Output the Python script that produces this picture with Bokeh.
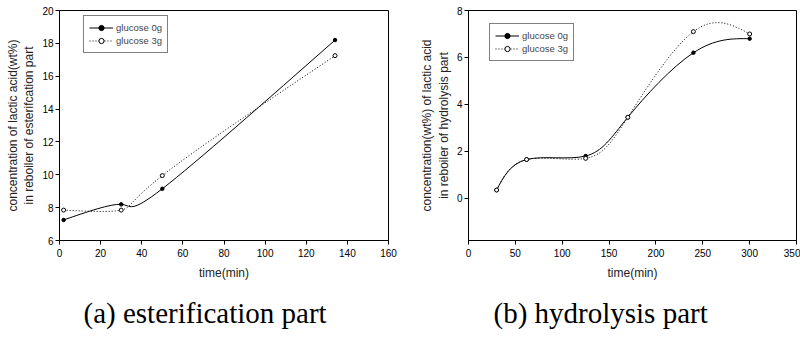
import numpy as np
from bokeh.plotting import figure
from bokeh.models import Range1d, FixedTicker, Legend, LegendItem, Title, ColumnDataSource
from bokeh.layouts import row
from bokeh.embed import file_html
from bokeh.resources import INLINE

# ---- data: (a) esterification part ----
est_time_0g = [2, 30, 50, 134]
est_conc_0g = [7.25, 8.2, 9.15, 18.2]
est_time_3g = [2, 30, 50, 134]
est_conc_3g = [7.85, 7.85, 9.95, 17.25]
est_xticks = [0, 20, 40, 60, 80, 100, 120, 140, 160]
est_yticks = [6, 8, 10, 12, 14, 16, 18, 20]

# ---- data: (b) hydrolysis part ----
hyd_time_0g = [30, 62, 125, 170, 240, 300]
hyd_conc_0g = [0.35, 1.65, 1.8, 3.45, 6.2, 6.8]
hyd_time_3g = [30, 62, 125, 170, 240, 300]
hyd_conc_3g = [0.35, 1.65, 1.7, 3.45, 7.1, 7.0]
hyd_xticks = [0, 50, 100, 150, 200, 250, 300, 350]
hyd_yticks = [0, 2, 4, 6, 8]

series_labels = ["glucose 0g", "glucose 3g"]


def natural_second_derivs(v):
    n = len(v)
    A = np.zeros((n, n))
    b = np.zeros(n)
    A[0, 0] = 1
    A[-1, -1] = 1
    for i in range(1, n - 1):
        A[i, i - 1] = 1
        A[i, i] = 4
        A[i, i + 1] = 1
        b[i] = 6 * (v[i + 1] - 2 * v[i] + v[i - 1])
    return np.linalg.solve(A, b)


def spline_source(xs, ys):
    # parametric natural cubic spline (uniform parameter), as Bezier segments
    xs = np.asarray(xs, float)
    ys = np.asarray(ys, float)
    Mx = natural_second_derivs(xs)
    My = natural_second_derivs(ys)
    d = dict(x0=[], y0=[], x1=[], y1=[], cx0=[], cy0=[], cx1=[], cy1=[])
    for i in range(len(xs) - 1):
        dxs = (xs[i + 1] - xs[i]) - (2 * Mx[i] + Mx[i + 1]) / 6
        dys = (ys[i + 1] - ys[i]) - (2 * My[i] + My[i + 1]) / 6
        dxe = (xs[i + 1] - xs[i]) + (Mx[i] + 2 * Mx[i + 1]) / 6
        dye = (ys[i + 1] - ys[i]) + (My[i] + 2 * My[i + 1]) / 6
        d["x0"].append(xs[i]); d["y0"].append(ys[i])
        d["x1"].append(xs[i + 1]); d["y1"].append(ys[i + 1])
        d["cx0"].append(xs[i] + dxs / 3); d["cy0"].append(ys[i] + dys / 3)
        d["cx1"].append(xs[i + 1] - dxe / 3); d["cy1"].append(ys[i + 1] - dye / 3)
    return ColumnDataSource(d)


def make_panel(t0, c0, t1, c1, xr, yr, xt, yt, ylabel, caption,
               width, mbl, mbr, mbt, mbb, legend_loc, cap_offset):
    p = figure(width=width, height=340, x_range=Range1d(*xr), y_range=Range1d(*yr),
               output_backend="svg", toolbar_location=None,
               min_border_left=mbl, min_border_right=mbr,
               min_border_top=mbt, min_border_bottom=mbb)
    p.xgrid.visible = False
    p.ygrid.visible = False
    p.outline_line_color = "black"
    p.outline_line_width = 1
    p.background_fill_color = "white"
    p.border_fill_color = "white"

    for ax in (p.xaxis[0], p.yaxis[0]):
        ax.axis_line_color = "black"
        ax.major_tick_line_color = "black"
        ax.minor_tick_line_color = None
        ax.major_tick_in = 0
        ax.major_tick_out = 4
        ax.major_label_text_font = "Liberation Sans"
        ax.major_label_text_font_size = "10px"
        ax.major_label_text_color = "black"
        ax.axis_label_text_font = "Liberation Sans"
        ax.axis_label_text_font_size = "12px"
        ax.axis_label_text_font_style = "normal"
        ax.axis_label_text_color = "#222222"
    p.xaxis.ticker = FixedTicker(ticks=xt)
    p.yaxis.ticker = FixedTicker(ticks=yt)
    p.xaxis.axis_label = "time(min)"
    p.xaxis.major_label_standoff = 4
    p.xaxis.axis_label_standoff = 6
    p.yaxis.axis_label = ylabel
    p.yaxis.major_label_standoff = 2
    p.yaxis.axis_label_standoff = 3

    r0 = p.bezier(x0="x0", y0="y0", x1="x1", y1="y1", cx0="cx0", cy0="cy0",
                  cx1="cx1", cy1="cy1", source=spline_source(t0, c0),
                  line_color="black", line_width=1)
    s0 = p.scatter(t0, c0, size=3.5, marker="circle", fill_color="black", line_color="black")
    r1 = p.bezier(x0="x0", y0="y0", x1="x1", y1="y1", cx0="cx0", cy0="cy0",
                  cx1="cx1", cy1="cy1", source=spline_source(t1, c1),
                  line_color="black", line_width=1, line_dash="1 2")
    s1 = p.scatter(t1, c1, size=4, marker="circle", fill_color="white", line_color="black")

    legend = Legend(items=[LegendItem(label=series_labels[0], renderers=[r0, s0]),
                           LegendItem(label=series_labels[1], renderers=[r1, s1])],
                    location=legend_loc)
    legend.border_line_color = "black"
    legend.border_line_width = 1
    legend.background_fill_color = "white"
    legend.background_fill_alpha = 1
    legend.padding = 5
    legend.spacing = 0
    legend.margin = 0
    legend.glyph_width = 24
    legend.glyph_height = 13
    legend.label_height = 13
    legend.label_standoff = 3
    legend.label_text_font = "Liberation Sans"
    legend.label_text_font_size = "9.5px"
    p.add_layout(legend)

    cap = Title(text=caption, align="left", vertical_align="bottom",
                text_font="Liberation Serif", text_font_size="29px",
                text_font_style="normal",
                text_color="black", offset=cap_offset, standoff=24)
    p.add_layout(cap, "below")
    return p


p1 = make_panel(est_time_0g, est_conc_0g, est_time_3g, est_conc_3g,
                (0, 160), (6, 20), est_xticks, est_yticks,
                "concentration of lactic acid(wt%)\nin reboiler of esterifcation part",
                "(a) esterification part",
                408, 59, 20, 9, 100, (24, 187), 24)
p2 = make_panel(hyd_time_0g, hyd_conc_0g, hyd_time_3g, hyd_conc_3g,
                (0, 350), (-1.8, 8), hyd_xticks, hyd_yticks,
                "concentration(wt%) of lactic acid\nin reboiler of hydrolysis part",
                "(b) hydrolysis part",
                392, 60, 4, 10, 100, (21, 179), 25)

layout = row(p1, p2)
open("out.html", "w").write(file_html(layout, INLINE))
